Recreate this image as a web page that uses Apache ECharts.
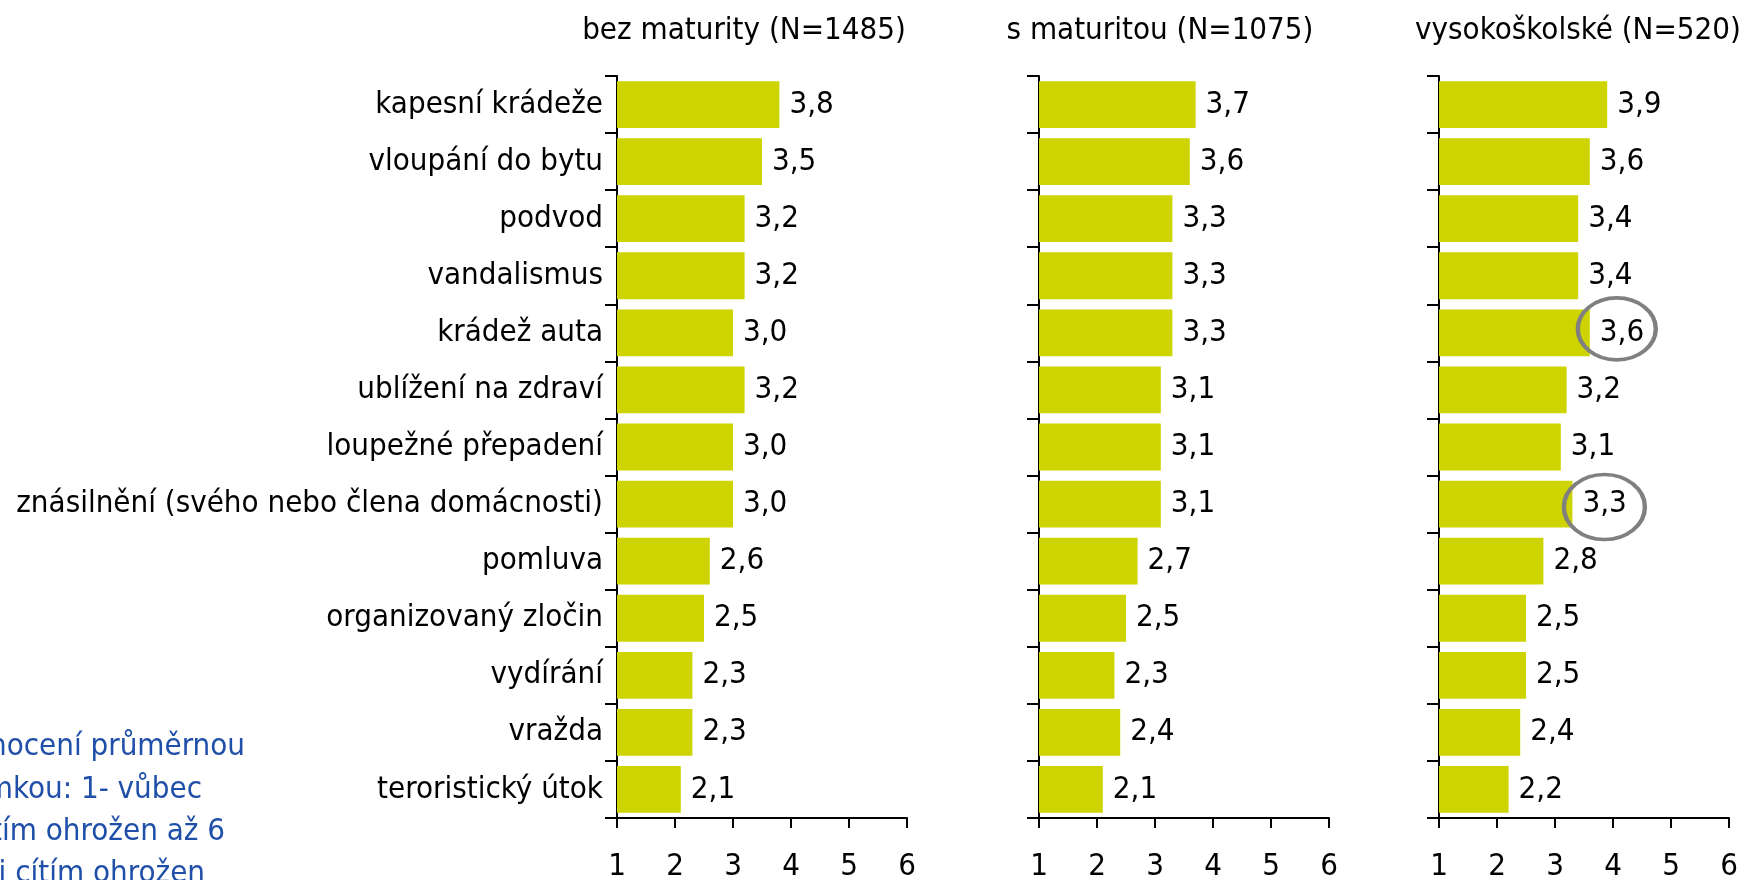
<!DOCTYPE html>
<html>
<head>
<meta charset="utf-8">
<script src="https://cdn.jsdelivr.net/npm/echarts@6/dist/echarts.min.js"></script>
<style>
  html, body { margin: 0; padding: 0; background: #ffffff; }
  #chart { width: 1749px; height: 880px; }
</style>
</head>
<body>
<div id="chart"></div>
<script>
// Ohrožení trestnými činy podle vzdělání (průměrná známka 1–6)
const categories = [
  'kapesní krádeže',
  'vloupání do bytu',
  'podvod',
  'vandalismus',
  'krádež auta',
  'ublížení na zdraví',
  'loupežné přepadení',
  'znásilnění (svého nebo člena domácnosti)',
  'pomluva',
  'organizovaný zločin',
  'vydírání',
  'vražda',
  'teroristický útok'
];
const groupTitles = ['bez maturity (N=1485)', 's maturitou (N=1075)', 'vysokoškolské (N=520)'];
const bezMaturity   = [3.8, 3.5, 3.2, 3.2, 3.0, 3.2, 3.0, 3.0, 2.6, 2.5, 2.3, 2.3, 2.1];
const sMaturitou    = [3.7, 3.6, 3.3, 3.3, 3.3, 3.1, 3.1, 3.1, 2.7, 2.5, 2.3, 2.4, 2.1];
const vysokoskolske = [3.9, 3.6, 3.4, 3.4, 3.6, 3.2, 3.1, 3.3, 2.8, 2.5, 2.5, 2.4, 2.2];
const scaleTicks = [1, 2, 3, 4, 5, 6];
// Hodnoty zvýrazněné kroužkem (vysokoškolské)
const highlighted = [
  { category: 'krádež auta', value: 3.6, size: [78, 62], offset: [27, -4] },
  { category: 'znásilnění (svého nebo člena domácnosti)', value: 3.3, size: [81, 65], offset: [32, 3] }
];
const noteLines = ['Hodnocení průměrnou', 'známkou: 1- vůbec', 'se necítím ohrožen až 6', 'velmi cítím ohrožen'];

const FONT = '"DejaVu Sans Condensed", "DejaVu Sans", Verdana, sans-serif';
const FS = 31;
const BAR_COLOR = '#CDD400';

const panels = [
  { left: 617, titleX: 744, data: bezMaturity, showCats: true },
  { left: 1039, titleX: 1160, data: sMaturitou, showCats: false },
  { left: 1439, titleX: 1578, data: vysokoskolske, showCats: false }
];

const grids = [], xAxes = [], yAxes = [], series = [], graphics = [];

panels.forEach((p, i) => {
  grids.push({
    left: p.left, width: 290, top: 76, height: 742,
    containLabel: false, outerBoundsMode: 'none'
  });
  xAxes.push({
    type: 'value', gridIndex: i,
    min: scaleTicks[0], max: scaleTicks[scaleTicks.length - 1], interval: 1,
    axisLine: { show: true, lineStyle: { color: '#000', width: 2 } },
    axisTick: { show: true, length: 10, lineStyle: { color: '#000', width: 2 } },
    splitLine: { show: false },
    axisLabel: { color: '#000', fontSize: FS, fontFamily: FONT, margin: 33 }
  });
  yAxes.push({
    type: 'category', gridIndex: i, data: categories, inverse: true,
    axisLine: { show: true, lineStyle: { color: '#000', width: 2 } },
    axisTick: { show: true, length: 12, alignWithLabel: false, lineStyle: { color: '#000', width: 2 } },
    axisLabel: { show: p.showCats, color: '#000', fontSize: FS, fontFamily: FONT, margin: 14 }
  });
  const s = {
    type: 'bar', xAxisIndex: i, yAxisIndex: i,
    data: p.data,
    barCategoryGap: '18%',
    itemStyle: { color: BAR_COLOR },
    label: {
      show: true, position: 'right', distance: 10,
      color: '#000', fontSize: FS, fontFamily: FONT,
      formatter: (d) => d.value.toFixed(1).replace('.', ',')
    },
    silent: true
  };
  if (i === 2) {
    s.markPoint = {
      silent: true,
      data: highlighted.map(h => ({
        coord: [h.value, h.category],
        symbol: 'circle',
        symbolSize: h.size,
        symbolOffset: h.offset,
        itemStyle: { color: 'rgba(0,0,0,0)', borderColor: '#808080', borderWidth: 4 },
        label: { show: false }
      }))
    };
  }
  series.push(s);
  graphics.push({
    type: 'text',
    style: {
      x: p.titleX, y: 31, text: groupTitles[i],
      align: 'center', verticalAlign: 'middle',
      fill: '#000', font: FS + 'px ' + FONT
    }
  });
});

// Poznámka k hodnoticí škále (vlevo dole)
const noteRight = [245, 202, 225, 205];
const noteMid = [747, 790, 832, 874];
noteLines.forEach((t, k) => {
  graphics.push({
    type: 'text',
    style: {
      x: noteRight[k], y: noteMid[k], text: t,
      align: 'right', verticalAlign: 'middle',
      fill: '#1F4FA8', font: FS + 'px ' + FONT
    }
  });
});

const chart = echarts.init(document.getElementById('chart'), null, { renderer: 'canvas' });
chart.setOption({
  animation: false,
  backgroundColor: '#ffffff',
  grid: grids,
  xAxis: xAxes,
  yAxis: yAxes,
  series: series,
  graphic: graphics
});
</script>
</body>
</html>
